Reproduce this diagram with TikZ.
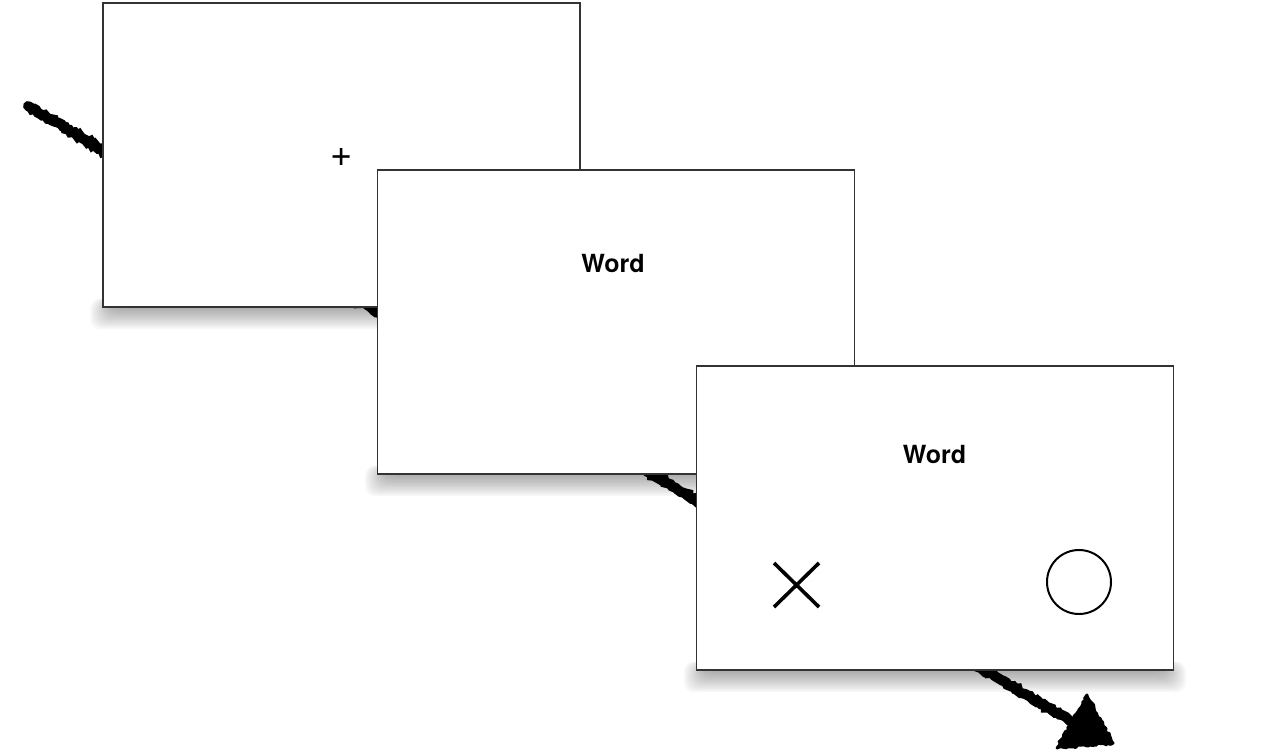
\documentclass[tikz,border=0pt]{standalone}
\usepackage{fontspec}
\setmainfont{TeX Gyre Heros}
\usetikzlibrary{backgrounds,calc,decorations.pathmorphing}

\begin{document}
\begin{tikzpicture}[x=1pt,y=-1pt,thick,
  screen/.style={rectangle,draw=black!80,line width=1.1pt,fill=white,minimum width=477pt,minimum height=304pt,inner sep=0pt},
  word/.style={anchor=base,inner sep=0pt,font=\fontsize{25}{30}\selectfont\bfseries},
  chalk/.style={decorate,decoration={random steps,segment length=2.5pt,amplitude=1.3pt}},
  shadow layer/.style={fill=black,opacity=0.03,rounded corners=10pt}]

  \useasboundingbox (0,0) rectangle (1277,754);

  \node[screen] (screen1) at (341.5,155) {};
  \node[inner sep=0pt,font=\fontsize{38}{40}\selectfont] (fix) at (341.5,157.5) {+};

  \node[screen] (screen2) at (616,322) {};
  \node[word] (word1) at (613,272) {Word};

  \node[screen] (screen3) at (935,518) {};
  \node[word] (word2) at (934.5,463) {Word};
  \coordinate (cross) at (796.5,585);
  \draw[line width=3.6pt] ($(cross)+(-22.5,-22)$) -- ($(cross)+(22.5,22)$)
                          ($(cross)+(-22.5,22)$) -- ($(cross)+(22.5,-22)$);
  \node[circle,draw,line width=2pt,minimum size=64pt,inner sep=0pt] (ring) at (1079,582) {};

  \coordinate (start) at (28,106);
  \coordinate (end) at (1072,722);
  \coordinate (tip) at (1113,743);
  \coordinate (barb1) at (1087,695);
  \coordinate (barb2) at (1057,748);

  \begin{scope}[on background layer]
    \foreach \n in {screen1,screen2,screen3}
      \foreach \e in {1,...,12}
        \path[shadow layer] ($(\n.south west)+(12-2*\e,-3-0.5*\e)$) rectangle ($(\n.south east)+(2*\e-12,1.8*\e)$);

    \draw[chalk,line width=10pt,line cap=round] (start) -- (end);
    \draw[chalk,line width=3pt,line join=round,fill] (barb1) -- (tip) -- (barb2) -- cycle;
  \end{scope}

\end{tikzpicture}
\end{document}
